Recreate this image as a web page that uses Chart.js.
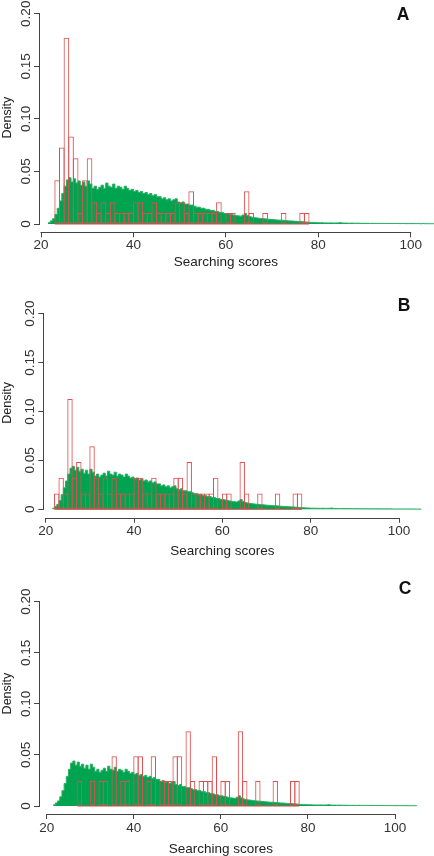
<!DOCTYPE html>
<html>
<head>
<meta charset="utf-8">
<script src="https://cdn.jsdelivr.net/npm/chart.js@4/dist/chart.umd.min.js"></script>
<style>
  body { margin: 0; background: #fff; width: 434px; height: 856px; position: relative; overflow: hidden; }
  canvas { position: absolute; left: 0; }
</style>
</head>
<body>
<canvas id="pA"></canvas>
<canvas id="pB"></canvas>
<canvas id="pC"></canvas>
<script>
/* Three stacked histograms: all searching scores (green) vs a selected set (red outline). */

// axis ticks
const xTicks = [20, 40, 60, 80, 100];
const yTicks = [0, 0.05, 0.10, 0.15, 0.20];
const yTickLabels = ["0", "0.05", "0.10", "0.15", "0.20"];
const xTitle = "Searching scores";
const yTitle = "Density";

// green: density of all scores, bins of 0.5 starting at 21.5
const greenStart = 21.5;
const greenStep = 0.5;
const greenDens = [
  0.0012, 0.003, 0.005, 0.009, 0.015, 0.022, 0.029, 0.036, 0.042, 0.044,
  0.040, 0.043, 0.039, 0.041, 0.037, 0.040, 0.036, 0.041, 0.038, 0.034,
  0.036, 0.033, 0.035, 0.037, 0.034, 0.039, 0.036, 0.035, 0.038, 0.034,
  0.036, 0.035, 0.033, 0.036, 0.034, 0.032, 0.033, 0.031, 0.032, 0.030,
  0.031, 0.029, 0.030, 0.028, 0.029, 0.027, 0.028, 0.026, 0.026, 0.024,
  0.025, 0.023, 0.024, 0.022, 0.023, 0.024, 0.021, 0.020, 0.021, 0.019,
  0.019, 0.018, 0.018, 0.017, 0.016, 0.016, 0.015, 0.015, 0.014, 0.014,
  0.013, 0.013, 0.012, 0.012, 0.011, 0.011, 0.010, 0.010, 0.0095, 0.009,
  0.0085, 0.008, 0.0078, 0.0075, 0.0085, 0.010, 0.008, 0.007, 0.0065, 0.006,
  0.0058, 0.0055, 0.0052, 0.005, 0.0048, 0.0046, 0.0044, 0.0042, 0.004, 0.0038,
  0.0037, 0.0036, 0.0034, 0.0032, 0.003, 0.0029, 0.0028, 0.0026, 0.0025, 0.0024,
  0.0022, 0.002, 0.0018, 0.0016, 0.0015, 0.0014, 0.0013, 0.0012, 0.0012, 0.0011,
  0.0011, 0.001, 0.0011, 0.001, 0.001, 0.0011, 0.0013, 0.001, 0.0009, 0.0009,
  0.0008, 0.0009, 0.0008, 0.0008, 0.0008, 0.0007, 0.0007, 0.0007, 0.0007, 0.0006,
  0.0007, 0.0006, 0.0006, 0.0006, 0.0006, 0.0005, 0.0006, 0.0005, 0.0005, 0.0005,
  0.0005, 0.0005, 0.0004, 0.0005, 0.0004, 0.0004, 0.0004, 0.0004, 0.0004, 0.0004,
  0.0004, 0.0003, 0.0004, 0.0003, 0.0003, 0.0003, 0.0003
];

// red: unit-width bins, lower bound of each non-empty bin + its density
const redBinsA = [23, 24, 25, 26, 27, 28, 29, 30, 31, 32, 33, 34, 35, 36, 37, 38, 39, 40, 41, 42,
  43, 44, 45, 46, 47, 48, 49, 50, 51, 52, 53, 54, 55, 56, 57, 58, 60, 61, 64, 65, 68, 72, 76, 77];
const redDensA = [0.0417, 0.0729, 0.1771, 0.0833, 0.0625, 0.0104, 0.0417, 0.0625, 0.0208, 0.0104,
  0.0208, 0.0104, 0.0208, 0.0104, 0.0104, 0.0104, 0.0104, 0.0208, 0.0208, 0.0104,
  0.0104, 0.0208, 0.0104, 0.0104, 0.0104, 0.0104, 0.0208, 0.0208, 0.0104, 0.0313,
  0.0104, 0.0104, 0.0104, 0.0104, 0.0104, 0.0208, 0.0104, 0.0104, 0.0313, 0.0104,
  0.0104, 0.0104, 0.0104, 0.0104];

const redBinsB = [22, 23, 24, 25, 26, 27, 28, 29, 30, 31, 32, 33, 34, 35, 36, 37, 38, 39, 40, 41,
  42, 43, 44, 45, 46, 47, 48, 49, 50, 51, 52, 53, 54, 55, 56, 57, 58, 60, 61, 64, 65, 68, 72, 76, 77];
const redDensB = [0.0161, 0.0323, 0.0161, 0.1129, 0.0323, 0.0484, 0.0161, 0.0161, 0.0645, 0.0323,
  0.0161, 0.0323, 0.0161, 0.0323, 0.0161, 0.0161, 0.0161, 0.0161, 0.0323, 0.0323,
  0.0161, 0.0161, 0.0323, 0.0161, 0.0161, 0.0161, 0.0161, 0.0323, 0.0323, 0.0161,
  0.0484, 0.0161, 0.0161, 0.0161, 0.0161, 0.0161, 0.0323, 0.0161, 0.0161, 0.0484,
  0.0161, 0.0161, 0.0161, 0.0161, 0.0161];

const redBinsC = [27, 30, 32, 33, 35, 37, 38, 40, 41, 43, 44, 46, 47, 48, 49, 50, 52, 53, 55, 56,
  57, 58, 60, 61, 64, 65, 68, 72, 76, 77];
const redDensC = [0.0244, 0.0244, 0.0244, 0.0244, 0.0488, 0.0244, 0.0244, 0.0488, 0.0488, 0.0244,
  0.0488, 0.0244, 0.0244, 0.0244, 0.0488, 0.0488, 0.0732, 0.0244, 0.0244, 0.0244,
  0.0244, 0.0488, 0.0244, 0.0244, 0.0732, 0.0244, 0.0244, 0.0244, 0.0244, 0.0244];

/* ---------- layout of each panel (canvas pixels) ---------- */
const FONT = '"Liberation Sans", Arial, Helvetica, sans-serif';
const panels = [
  { id: "pA", letter: "A", top: 0, h: 285, axisX: 40, x20: 41, x100: 410.7, y0: 224, y20: 12.7, axisY: 232.3,
    xPad: 0, titleY: 262, letterX: 403, letterY: 15, bins: redBinsA, dens: redDensA },
  { id: "pB", letter: "B", top: 285, h: 285, axisX: 44.3, x20: 45.7, x100: 399, y0: 224.3, y20: 27.7, axisY: 232.7,
    xPad: 0, titleY: 266, letterX: 404, letterY: 21.5, bins: redBinsB, dens: redDensB },
  { id: "pC", letter: "C", top: 570, h: 286, axisX: 40, x20: 46.7, x100: 395, y0: 236, y20: 30.7, axisY: 244,
    xPad: 1, titleY: 279, letterX: 405, letterY: 19, bins: redBinsC, dens: redDensC },
];

const GREEN = "rgb(0,164,80)";
const RED = "rgb(222,78,78)";
const AXIS = "#444";

// R-style axis lines (only between first and last tick), x title, panel letter
const rAxes = {
  id: "rAxes",
  afterDraw(chart, args, opts) {
    const { ctx, chartArea, scales: { x, y } } = chart;
    const p = opts.panel;
    ctx.save();
    ctx.strokeStyle = AXIS;
    ctx.lineWidth = 1;
    ctx.beginPath();
    const lx = Math.round(chartArea.left) - 0.5;
    ctx.moveTo(lx, y.getPixelForValue(yTicks[0]) + 0.5);
    ctx.lineTo(lx, y.getPixelForValue(yTicks[yTicks.length - 1]) - 0.5);
    const by = Math.round(chartArea.bottom) + 0.5;
    ctx.moveTo(x.getPixelForValue(xTicks[0]) - 0.5, by);
    ctx.lineTo(x.getPixelForValue(xTicks[xTicks.length - 1]) + 0.5, by);
    ctx.stroke();

    ctx.fillStyle = "#222";
    ctx.textAlign = "center";
    ctx.textBaseline = "middle";
    ctx.font = "13.5px " + FONT;
    const cx = (x.getPixelForValue(xTicks[0]) + x.getPixelForValue(xTicks[xTicks.length - 1])) / 2;
    ctx.fillText(xTitle, cx, p.titleY);
    ctx.fillStyle = "#111";
    ctx.font = "bold 17.5px " + FONT;
    ctx.fillText(p.letter, p.letterX, p.letterY);
    ctx.restore();
  },
};

function makeChart(p) {
  const cv = document.getElementById(p.id);
  cv.width = 434;
  cv.height = p.h;
  cv.style.top = p.top + "px";
  cv.style.width = "434px";
  cv.style.height = p.h + "px";

  const pxX = (p.x100 - p.x20) / (xTicks[4] - xTicks[0]);
  const pxY = (p.y0 - p.y20) / yTicks[4];
  const xMin = xTicks[0] - (p.x20 - p.axisX) / pxX;
  const xMax = xTicks[0] + (434 - p.x20) / pxX;
  const yMin = -(p.axisY - p.y0) / pxY;
  const yMax = yTicks[4] + (p.y20 - 2) / pxY;

  const green = greenDens.map((d, i) => ({ x: greenStart + i * greenStep, y: d }));
  green.push({ x: greenStart + greenDens.length * greenStep, y: 0 });
  const red = p.bins.map((b, i) => ({ x: b + 0.5, y: p.dens[i] }));
  const base = [{ x: p.bins[0], y: 0 }, { x: p.bins[p.bins.length - 1] + 1, y: 0 }];

  new Chart(cv, {
    type: "line",
    data: {
      datasets: [
        { type: "line", data: base, borderColor: RED, borderWidth: 1, pointRadius: 0, order: 0 },
        // bars widened by one border width so neighbouring bins share a single edge line
        { type: "bar", data: red, borderColor: RED, backgroundColor: "rgba(0,0,0,0)", borderWidth: 1,
          borderSkipped: false, barPercentage: 1 + 1 / pxX, categoryPercentage: 1, inflateAmount: 0, order: 1 },
        { type: "line", data: green, stepped: true, fill: "origin", backgroundColor: GREEN,
          borderColor: "rgb(40,178,100)", borderWidth: 1, pointRadius: 0, order: 2 },
      ],
    },
    options: {
      responsive: false,
      devicePixelRatio: 1,
      animation: false,
      events: [],
      layout: { padding: { top: 2, left: 0, right: 0, bottom: 0 } },
      plugins: { legend: { display: false }, tooltip: { enabled: false }, rAxes: { panel: p } },
      scales: {
        x: {
          type: "linear", min: xMin, max: xMax, offset: false,
          afterBuildTicks: (s) => { s.ticks = xTicks.map((v) => ({ value: v })); },
          afterFit: (s) => { s.height = p.h - p.axisY; },
          ticks: { font: { family: FONT, size: 13.5 }, color: "#333", padding: p.xPad, maxRotation: 0,
            autoSkip: false, callback: (v) => String(v) },
          grid: { drawOnChartArea: false, offset: false, tickLength: 5, color: AXIS },
          border: { display: false },
        },
        y: {
          type: "linear", min: yMin, max: yMax,
          afterBuildTicks: (s) => { s.ticks = yTicks.map((v) => ({ value: v })); },
          afterFit: (s) => { s.width = p.axisX; },
          ticks: { font: { family: FONT, size: 13.5 }, color: "#333", minRotation: 90, maxRotation: 90,
            crossAlign: "center", padding: -5,
            callback: (v) => yTickLabels[yTicks.indexOf(v)] },
          grid: { drawOnChartArea: false, tickLength: 6, color: AXIS },
          border: { display: false },
          title: { display: true, text: yTitle, color: "#222", padding: 0, font: { family: FONT, size: 12.5 } },
        },
      },
    },
    plugins: [rAxes],
  });
}

panels.forEach(makeChart);
</script>
</body>
</html>
